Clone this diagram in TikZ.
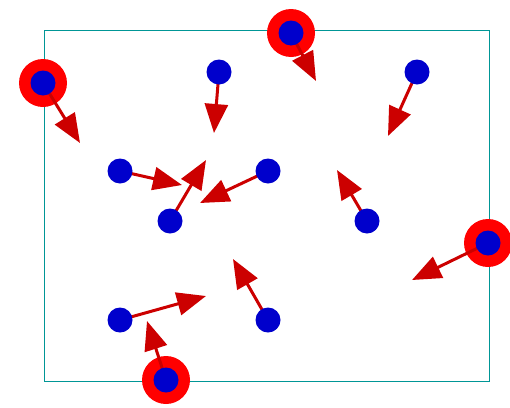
\documentclass[tikz,border=0pt]{standalone}
\usetikzlibrary{arrows.meta}
\definecolor{boxteal}{RGB}{0,150,150}
\definecolor{ringred}{RGB}{255,0,0}
\definecolor{arrowred}{RGB}{204,0,0}
\definecolor{dotblue}{RGB}{0,0,204}
\tikzset{
  ring/.style={circle, fill=ringred, inner sep=0pt, minimum size=48pt},
  dot/.style={circle, fill=dotblue, inner sep=0pt, minimum size=25pt},
  velocity/.style={draw=arrowred, line width=3pt,
    -{Triangle[length=29pt, width=23pt, fill=arrowred]}},
}
\begin{document}
\begin{tikzpicture}[x=1pt, y=-1pt]
  \useasboundingbox (0,0) rectangle (510,407);
  % simulation box
  \draw[boxteal, line width=1pt] (44,30) rectangle (489,381);

  % particle positions
  \coordinate (c1) at (43,83);
  \coordinate (c2) at (291,33);
  \coordinate (c3) at (219,72);
  \coordinate (c4) at (417,72);
  \coordinate (c5) at (120,171);
  \coordinate (c6) at (268,171);
  \coordinate (c7) at (170,221);
  \coordinate (c8) at (367,221);
  \coordinate (c9) at (488,243);
  \coordinate (c10) at (120,320);
  \coordinate (c11) at (268,320);
  \coordinate (c12) at (166,380);

  % velocity tips
  \coordinate (v1) at (80,143);
  \coordinate (v2) at (316,81);
  \coordinate (v3) at (214,133);
  \coordinate (v4) at (388,136);
  \coordinate (v5) at (182,185);
  \coordinate (v6) at (200,203);
  \coordinate (v7) at (206,160);
  \coordinate (v8) at (337,170);
  \coordinate (v9) at (412,280);
  \coordinate (v10) at (206,296);
  \coordinate (v11) at (233,259);
  \coordinate (v12) at (147,321);

  % boundary particles carry a halo
  \foreach \i in {1,2,9,12} \node[ring] (r\i) at (c\i) {};

  % velocity vectors
  \foreach \i in {1,...,12} \draw[velocity] (c\i) -- (v\i);

  % particles
  \foreach \i in {1,...,12} \node[dot] (p\i) at (c\i) {};
\end{tikzpicture}
\end{document}
